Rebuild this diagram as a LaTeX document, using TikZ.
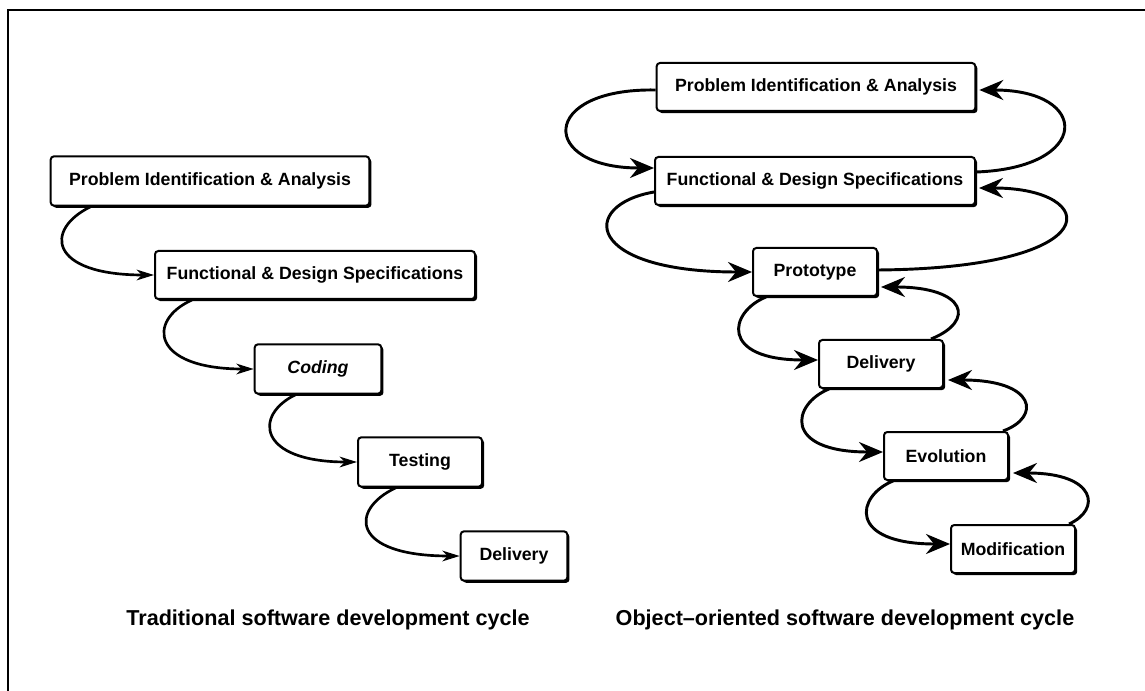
\documentclass[tikz,border=0pt]{standalone}
\usepackage{fontspec}
\setmainfont{Liberation Sans}
\usetikzlibrary{arrows.meta,calc,shadows}
\begin{document}
\begin{tikzpicture}[x=0.75pt,y=-0.75pt,
  box/.style={draw,line width=1.5pt,rounded corners=2.5pt,fill=white,
    minimum height=37pt,inner sep=0pt,
    font=\fontsize{13.3}{15}\selectfont\bfseries,
    drop shadow={shadow xshift=1.6pt,shadow yshift=-1.6pt,opacity=1,fill=black}},
  wide/.style={box,minimum width=239pt},
  small/.style={box,minimum width=93pt},
  larr/.style={line width=2pt,-{Stealth[length=13pt,width=8pt,inset=4pt]}},
  rarr/.style={line width=2.2pt,-{Stealth[length=18pt,width=15pt,inset=6pt]}},
  captext/.style={font=\fontsize{16.2}{18}\selectfont\bfseries}
]
\useasboundingbox (0,0) rectangle (1145,691);
\draw[line width=2.2pt] (8,691) -- (8,10) -- (1145,10);

% left column
\node[wide] (lpia) at (210,181) {Problem Identification \& Analysis};
\node[wide,minimum width=240pt,minimum height=36pt] (lfds) at (315,275) {Functional \& Design Specifications};
\node[small,minimum width=95pt] (lcod) at (318,369) {\itshape Coding};
\node[small] (ltst) at (420,462) {Testing};
\node[small,minimum width=80pt] (ldel) at (514,556) {Delivery};

\draw[larr] ($(lpia.south west)+(41,0)$) .. controls +(-47,23) and +(-105,0) .. (lfds.west);
\draw[larr] ($(lfds.south west)+(38,0)$) .. controls +(-45,20) and +(-103,0) .. (lcod.west);
\draw[larr] ($(lcod.south west)+(42,0)$) .. controls +(-42,20) and +(-100,0) .. (ltst.west);
\draw[larr] ($(ltst.south west)+(39,0)$) .. controls +(-47,22) and +(-109,0) .. (ldel.west);

% right column
\node[wide,minimum height=36pt] (rpia) at (816,87) {Problem Identification \& Analysis};
\node[wide,minimum width=240pt,minimum height=36pt] (rfds) at (815,181) {Functional \& Design Specifications};
\node[small,minimum height=36pt] (rpro) at (815,272) {Prototype};
\node[small,minimum height=36pt] (rdel) at (881,364) {Delivery};
\node[small,minimum height=36pt] (revo) at (946,456) {Evolution};
\node[small,minimum height=36pt] (rmod) at (1013,549) {Modification};

\draw[rarr] ($(rpia.west)+(0,3)$) .. controls +(-117,-2) and +(-115,0) .. ($(rfds.west)+(0,-13)$);
\draw[rarr] ($(rfds.west)+(0,11)$) .. controls +(-75,13) and +(-168,0) .. (rpro.west);
\draw[rarr] ($(rpro.south west)+(14,0)$) .. controls +(-37,15) and +(-99,0) .. ($(rdel.west)+(0,-4)$);
\draw[rarr] ($(rdel.south west)+(11,0)$) .. controls +(-37,15) and +(-101,0) .. ($(revo.west)+(0,-4)$);
\draw[rarr] ($(revo.south west)+(10,0)$) .. controls +(-37,15) and +(-103,0) .. ($(rmod.west)+(0,-5)$);

\draw[rarr] ($(rfds.east)+(0,-9)$) .. controls +(115,-4) and +(112,0) .. ($(rpia.east)+(3,3)$);
\draw[rarr] ($(rpro.east)+(0,-2)$) .. controls +(233.5,-2) and +(122,0) .. ($(rfds.east)+(3,7)$);
\draw[rarr] ($(rdel.north east)+(-13,0)$) .. controls +(45,-18) and +(85.5,0) .. ($(rpro.east)+(3,15)$);
\draw[rarr] ($(revo.north east)+(-6,0)$) .. controls +(38.5,-14) and +(88,0) .. ($(rdel.east)+(4,16)$);
\draw[rarr] ($(rmod.north east)+(-7,0)$) .. controls +(32.5,-14.5) and +(83.5,0) .. ($(revo.east)+(4,17)$);

% captions
\node[captext] (lcap) at (328,620) {Traditional software development cycle};
\node[captext] (rcap) at (845,620) {Object–oriented software development cycle};
\end{tikzpicture}
\end{document}
